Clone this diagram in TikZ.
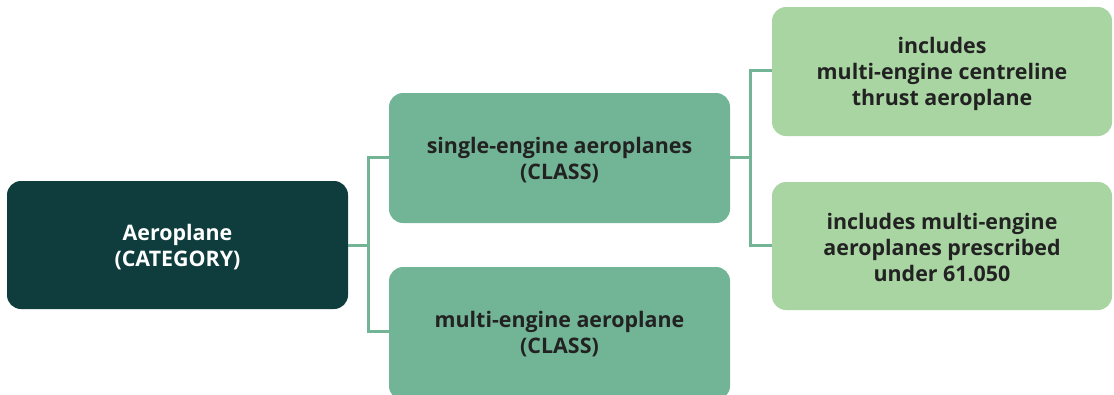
\documentclass[tikz,border=0pt]{standalone}
\usepackage{fontspec}
\setmainfont{Open Sans}
\definecolor{catfill}{HTML}{0F3D3E}
\definecolor{classfill}{HTML}{72B496}
\definecolor{subfill}{HTML}{A8D5A2}
\definecolor{linkcol}{HTML}{73B497}
\definecolor{txt}{HTML}{222222}
\tikzset{
  box/.style={rounded corners=14pt, inner sep=0pt},
  lbl/.style={align=center, font=\fontsize{21.4}{26}\selectfont\bfseries, text=txt},
  link/.style={draw=linkcol, line width=3pt}
}
\begin{document}
\begin{tikzpicture}[x=1pt,y=-1pt]
\useasboundingbox (0,0) rectangle (1114,394);
\begin{scope}
\clip (0,0) rectangle (1114,394);
% boxes
\fill[catfill, box] (7,181) rectangle (348,309);
\fill[classfill, box] (389,93) rectangle (730,223);
\fill[classfill, box] (389,267) rectangle (730,400);
\fill[subfill, box] (772,7) rectangle (1112,136);
\fill[subfill, box] (772,182) rectangle (1112,310);
\end{scope}
\node[lbl, text=white] (cat) at (177.5,247) {Aeroplane\\(CATEGORY)};
\node[lbl] (single) at (559.5,160) {single-engine aeroplanes\\(CLASS)};
\node[lbl] (multi) at (559.5,334) {multi-engine aeroplane\\(CLASS)};
\node[lbl] (centre) at (942,74) {includes\\multi-engine centreline\\thrust aeroplane};
\node[lbl] (pres) at (942,248) {includes multi-engine\\aeroplanes prescribed\\under 61.050};
% anchor coordinates on box edges
\coordinate (catR) at (348,245);
\coordinate (singleL) at (389,157);
\coordinate (multiL) at (389,331);
\coordinate (singleR) at (730,157);
\coordinate (centreL) at (772,70);
\coordinate (presL) at (772,245);
% connectors
\draw[link] (catR) -- (368,245);
\draw[link] (singleL) -| (368,331) -- (multiL);
\draw[link] (singleR) -- (750,157);
\draw[link] (centreL) -| (750,245) -- (presL);
\end{tikzpicture}
\end{document}
